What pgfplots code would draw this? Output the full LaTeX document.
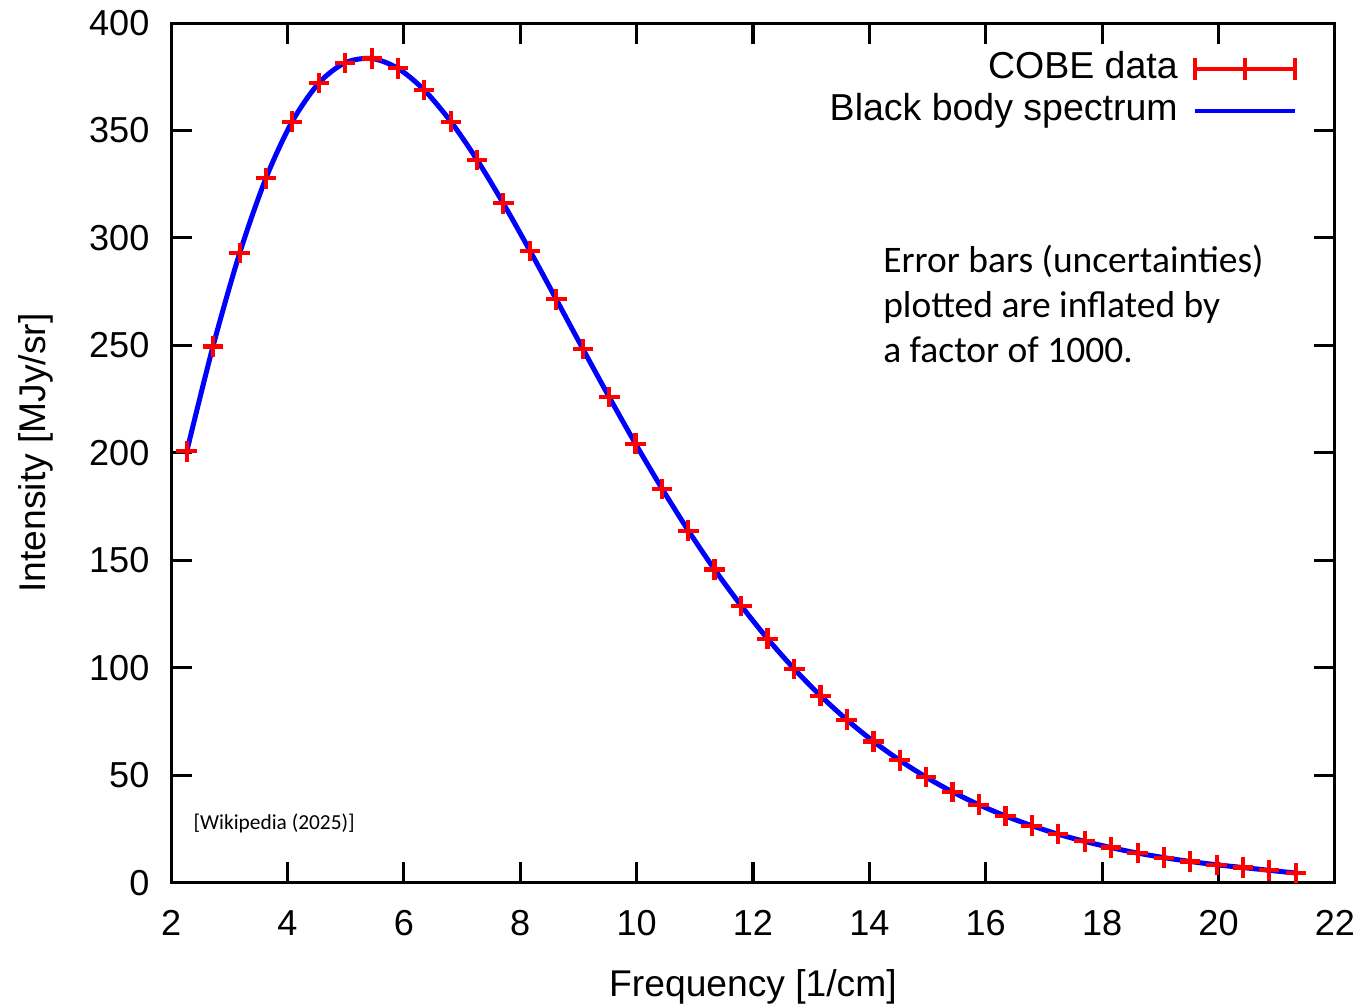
\documentclass[border=0pt]{standalone}
\usepackage{fontspec}
\setmainfont{Liberation Sans}
\newfontfamily\calibri{Carlito}
\usepackage{pgfplots}
\pgfplotsset{compat=1.18}
\usepackage{pgfplotstable}

\pgfplotstableread{
f I
2.27 200.723
2.72 249.508
3.18 293.024
3.63 327.770
4.08 354.081
4.54 372.079
4.99 381.493
5.45 383.478
5.90 378.901
6.35 368.833
6.81 354.063
7.26 336.278
7.71 316.076
8.17 293.924
8.62 271.432
9.08 248.239
9.53 225.940
9.98 204.327
10.44 183.262
10.89 163.830
11.34 145.750
11.80 128.835
12.25 113.568
12.71 99.451
13.16 87.036
13.61 75.876
14.07 65.766
14.52 57.008
14.97 49.223
15.43 42.267
15.88 36.352
16.34 31.062
16.79 26.580
17.24 22.644
17.70 19.255
18.15 16.391
18.61 13.811
19.06 11.716
19.51 9.921
19.97 8.364
20.42 7.087
20.87 5.801
21.33 4.523
}\cobe

\begin{document}
\begin{tikzpicture}
\begin{axis}[
  scale only axis, width=419.1pt, height=309.6pt,
  xmin=2, xmax=22, ymin=0, ymax=400,
  xtick={2,4,...,22}, ytick={0,50,...,400},
  tick align=inside, major tick length=7.5pt,
  axis line style={line width=1.1pt},
  every tick/.style={black, line width=1.1pt},
  /pgf/number format/assume math mode=true,
  tick label style={font=\fontsize{13}{15.5}\selectfont},
  yticklabel style={anchor=east, inner sep=0pt, xshift=-7.6pt},
  xticklabel style={anchor=north, inner sep=0pt, yshift=-9.7pt},
  xlabel={Frequency [1/cm]}, ylabel={Intensity [MJy/sr]},
  every axis x label/.style={at={(axis description cs:0.5,-0.1326)}, anchor=base, inner sep=0pt, font=\fontsize{13.4}{16}\selectfont},
  every axis y label/.style={at={(axis description cs:-0.1083,0.5)}, anchor=base, rotate=90, inner sep=0pt, font=\fontsize{13.4}{16}\selectfont},
  legend style={draw=none, fill=none, at={(rel axis cs:1,1)}, anchor=north east,
    xshift=-13.7pt, yshift=-10.2pt, inner sep=0pt, outer sep=0pt,
    row sep=2.6pt, column sep=5.4pt, font=\fontsize{13.5}{16}\selectfont,
    nodes={inner sep=0pt, text height=9.7pt, text depth=2.8pt}},
  legend plot pos=right,
  legend cell align=right,
]
\coordinate (SW) at (rel axis cs:0,0);
\coordinate (NE) at (rel axis cs:1,1);
\addplot[only marks, red, mark=+, mark size=3.7pt, mark options={line width=1.5pt},
  legend image code/.code={\draw[red, line width=1.5pt] (0pt,0pt) -- (36pt,0pt) (0pt,-3.9pt) -- (0pt,3.9pt) (18pt,-3.9pt) -- (18pt,3.9pt) (36pt,-3.9pt) -- (36pt,3.9pt);}]
  table[x=f, y=I] {\cobe};
\addlegendentry{COBE data}
\addplot[blue, line width=1.8pt, smooth,
  legend image code/.code={\draw[blue, line width=1.5pt] (0pt,0pt) -- (36pt,0pt);}]
  table[x=f, y=I] {\cobe};
\addlegendentry{Black body spectrum}
\node[anchor=west, inner sep=0pt, align=left, font=\calibri\fontsize{13.5}{16.2}\selectfont]
  at (axis cs:14.23,269.3) {Error bars (uncertainties)\\plotted are inflated by\\a factor of 1000.};
\node[anchor=west, inner sep=0pt, font=\calibri\fontsize{7.7}{9.5}\selectfont]
  at (axis cs:2.378,27.4) {[Wikipedia (2025)]};
\end{axis}
\pgfresetboundingbox
\path[use as bounding box] ([xshift=-61.6pt,yshift=-44.3pt]SW) rectangle ([xshift=9.4pt,yshift=8.3pt]NE);
\end{tikzpicture}
\end{document}
